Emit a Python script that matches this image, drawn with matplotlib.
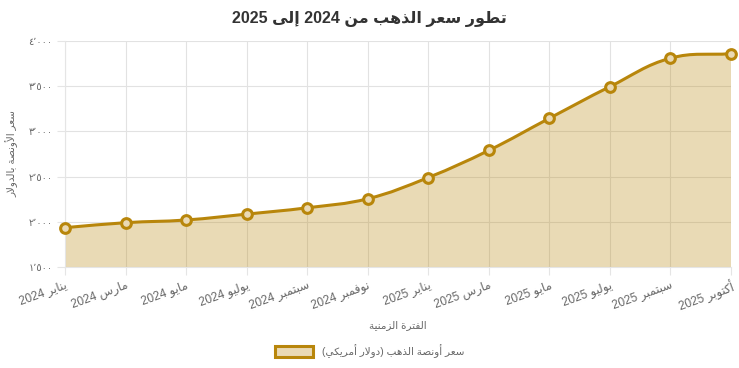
import re
import numpy as np
import matplotlib
matplotlib.use("Agg")
import matplotlib.pyplot as plt
from matplotlib.path import Path
from matplotlib.patches import PathPatch, Patch

# data
months = ["يناير 2024", "مارس 2024", "مايو 2024", "يوليو 2024", "سبتمبر 2024", "نوفمبر 2024",
          "يناير 2025", "مارس 2025", "مايو 2025", "يوليو 2025", "سبتمبر 2025", "أكتوبر 2025"]
prices = [1935, 1990, 2020, 2085, 2155, 2255, 2490, 2790, 3145, 3495, 3810, 3860]
y_ticks = [1500, 2000, 2500, 3000, 3500, 4000]

title = "تطور سعر الذهب من 2024 إلى 2025"
x_title = "الفترة الزمنية"
y_title = "سعر الأونصة بالدولار"
series_name = "سعر أونصة الذهب (دولار أمريكي)"

gold = "#b8860b"

# ---- minimal arabic shaping + rtl ordering (matplotlib has none) ----
FORMS = {
    "ا": (0xFE8D, 0xFE8E), "أ": (0xFE83, 0xFE84), "إ": (0xFE87, 0xFE88), "آ": (0xFE81, 0xFE82),
    "ب": (0xFE8F, 0xFE90, 0xFE91, 0xFE92), "ة": (0xFE93, 0xFE94),
    "ت": (0xFE95, 0xFE96, 0xFE97, 0xFE98), "ث": (0xFE99, 0xFE9A, 0xFE9B, 0xFE9C),
    "ج": (0xFE9D, 0xFE9E, 0xFE9F, 0xFEA0), "ح": (0xFEA1, 0xFEA2, 0xFEA3, 0xFEA4),
    "خ": (0xFEA5, 0xFEA6, 0xFEA7, 0xFEA8), "د": (0xFEA9, 0xFEAA), "ذ": (0xFEAB, 0xFEAC),
    "ر": (0xFEAD, 0xFEAE), "ز": (0xFEAF, 0xFEB0),
    "س": (0xFEB1, 0xFEB2, 0xFEB3, 0xFEB4), "ش": (0xFEB5, 0xFEB6, 0xFEB7, 0xFEB8),
    "ص": (0xFEB9, 0xFEBA, 0xFEBB, 0xFEBC), "ض": (0xFEBD, 0xFEBE, 0xFEBF, 0xFEC0),
    "ط": (0xFEC1, 0xFEC2, 0xFEC3, 0xFEC4), "ظ": (0xFEC5, 0xFEC6, 0xFEC7, 0xFEC8),
    "ع": (0xFEC9, 0xFECA, 0xFECB, 0xFECC), "غ": (0xFECD, 0xFECE, 0xFECF, 0xFED0),
    "ف": (0xFED1, 0xFED2, 0xFED3, 0xFED4), "ق": (0xFED5, 0xFED6, 0xFED7, 0xFED8),
    "ك": (0xFED9, 0xFEDA, 0xFEDB, 0xFEDC), "ل": (0xFEDD, 0xFEDE, 0xFEDF, 0xFEE0),
    "م": (0xFEE1, 0xFEE2, 0xFEE3, 0xFEE4), "ن": (0xFEE5, 0xFEE6, 0xFEE7, 0xFEE8),
    "ه": (0xFEE9, 0xFEEA, 0xFEEB, 0xFEEC), "و": (0xFEED, 0xFEEE), "ى": (0xFEEF, 0xFEF0),
    "ي": (0xFEF1, 0xFEF2, 0xFEF3, 0xFEF4),
    "لا": (0xFEFB, 0xFEFC), "لأ": (0xFEF7, 0xFEF8), "لإ": (0xFEF9, 0xFEFA), "لآ": (0xFEF5, 0xFEF6),
}


def shape(s):
    toks = []
    i = 0
    while i < len(s):
        if s[i] == "ل" and i + 1 < len(s) and s[i:i + 2] in FORMS:
            toks.append(s[i:i + 2])
            i += 2
        else:
            toks.append(s[i])
            i += 1
    out = []
    for k, t in enumerate(toks):
        if t not in FORMS:
            out.append(t)
            continue
        f = FORMS[t]
        prev = toks[k - 1] if k > 0 else None
        nxt = toks[k + 1] if k + 1 < len(toks) else None
        pj = prev in FORMS and len(FORMS[prev]) == 4
        nj = len(f) == 4 and nxt in FORMS
        if pj and nj:
            out.append(chr(f[3]))
        elif pj:
            out.append(chr(f[1]))
        elif nj:
            out.append(chr(f[2]))
        else:
            out.append(chr(f[0]))
    return "".join(out)


def ar(s):
    s = shape(s)
    runs = re.findall(r"[0-9A-Za-z\u0660-\u0669\u066C.,]+|[^0-9A-Za-z\u0660-\u0669\u066C.,]+", s)
    res = []
    for r in reversed(runs):
        if re.match(r"[0-9A-Za-z\u0660-\u0669\u066C]", r):
            res.append(r)
        else:
            r = r[::-1].translate(str.maketrans("()", ")("))
            res.append(r)
    return "".join(res)


def arabic_digits(v):
    txt = f"{v:,}"
    return txt.translate(str.maketrans("0123456789,", "٠١٢٣٤٥٦٧٨٩٬"))


# latin digits in an arial-like face, arabic falls back to dejavu
plt.rcParams["font.family"] = ["Liberation Sans", "DejaVu Sans"]

fig = plt.figure(figsize=(7.39, 3.68), dpi=100)
ax = fig.add_axes([65 / 739, 101 / 368, 666 / 739, 226 / 368])

x = np.arange(len(months))
y = np.array(prices, dtype=float)
ax.set_xlim(0, len(months) - 1)
ax.set_ylim(1500, 4000)

# chart.js style bezier (tension 0.4) computed in pixel space
fig.canvas.draw()
pix = ax.transData.transform(np.column_stack([x, y]))
t = 0.4
n = len(pix)
cp_prev = pix.copy()
cp_next = pix.copy()
for i in range(n):
    p0 = pix[i - 1] if i > 0 else pix[i]
    p1 = pix[i]
    p2 = pix[i + 1] if i < n - 1 else pix[i]
    d01 = np.hypot(*(p1 - p0))
    d12 = np.hypot(*(p2 - p1))
    tot = d01 + d12
    s01 = d01 / tot if tot else 0
    s12 = d12 / tot if tot else 0
    cp_prev[i] = p1 - t * s01 * (p2 - p0)
    cp_next[i] = p1 + t * s12 * (p2 - p0)
inv = ax.transData.inverted()
cp_prev = inv.transform(cp_prev)
cp_next = inv.transform(cp_next)
cp_prev[:, 1] = np.clip(cp_prev[:, 1], 1500, 4000)
cp_next[:, 1] = np.clip(cp_next[:, 1], 1500, 4000)

verts = [(x[0], y[0])]
codes = [Path.MOVETO]
for i in range(n - 1):
    verts += [tuple(cp_next[i]), tuple(cp_prev[i + 1]), (x[i + 1], y[i + 1])]
    codes += [Path.CURVE4] * 3
line_path = Path(verts, codes)
fill_path = Path(verts + [(x[-1], 1500), (x[0], 1500), (x[0], y[0])],
                 codes + [Path.LINETO, Path.LINETO, Path.CLOSEPOLY])

ax.add_patch(PathPatch(fill_path, facecolor=gold, alpha=0.3, edgecolor="none", zorder=2))
ax.add_patch(PathPatch(line_path, facecolor="none", edgecolor=gold, lw=2.2, zorder=3))
ax.plot(x, y, "o", ms=7, mfc="#ead9b4", mec=gold, mew=2.2, zorder=4, clip_on=False)

ax.set_yticks(y_ticks)
ax.set_yticklabels([arabic_digits(v) for v in y_ticks], fontsize=7, color="#666666")
ax.set_xticks(x)
ax.set_xticklabels([ar(m) for m in months], fontsize=8.5, color="#666666",
                   rotation=20, ha="right", va="top", rotation_mode="anchor")
ax.tick_params(axis="both", length=6, color="#e5e5e5", width=0.8, pad=3)
ax.grid(True, color="#e2e2e2", lw=0.8, zorder=0)
ax.set_axisbelow(True)
for sp in ax.spines.values():
    sp.set_visible(False)
ax.spines["left"].set_visible(True)
ax.spines["left"].set_color("#e5e5e5")
ax.spines["bottom"].set_visible(True)
ax.spines["bottom"].set_color("#e5e5e5")

ax.set_xlabel(ar(x_title), fontsize=7.5, color="#666666", labelpad=4)
ax.set_ylabel(ar(y_title), fontsize=7.5, color="#666666")
ax.yaxis.set_label_coords(-47 / 666, 0.5)

fig.text(0.5, 1 - 19 / 368, ar(title), ha="center", va="center",
         fontsize=11.5, fontweight="bold", color="#333333")

handle = Patch(facecolor="#ead9b4", edgecolor=gold, lw=2.2)
fig.legend([handle], [ar(series_name)], loc="center", bbox_to_anchor=(0.5, 1 - 351 / 368),
           frameon=False, fontsize=7.5, labelcolor="#666666",
           handlelength=3.7, handleheight=1.2, handletextpad=0.8)

fig.savefig("out.png", dpi=100)
